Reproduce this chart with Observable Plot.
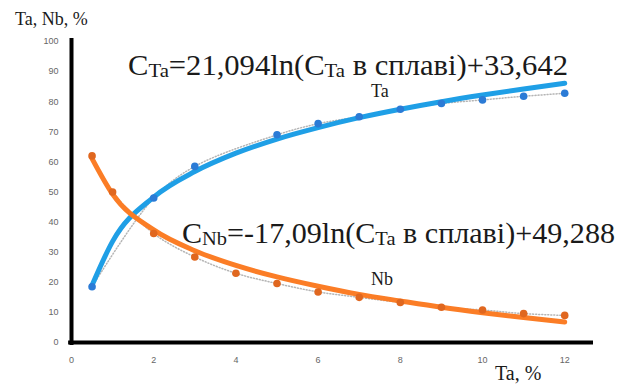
<!DOCTYPE html>
<html><head><meta charset="utf-8">
<script src="https://cdn.jsdelivr.net/npm/d3@7"></script>
<script src="https://cdn.jsdelivr.net/npm/@observablehq/plot@0.6"></script>
<style>body{margin:0;background:#fff}#c{position:relative;width:630px;height:385px}
.lab{position:absolute;white-space:nowrap;font-family:'Liberation Serif','Times New Roman',serif;line-height:1;color:#1a1a1a;transform-origin:0 0;pointer-events:none}
.lab .sub{font-size:68%;position:relative;top:2px}</style>
</head><body><div id="c"></div>
<script>
// Measured data points
const taX = [0.5, 2, 3, 5, 6, 7, 8, 9, 10, 11, 12];
const taY = [18.5, 48, 58.5, 69, 72.7, 75, 77.5, 79.4, 80.6, 81.8, 82.8];
const nbX = [0.5, 1, 2, 3, 4, 5, 6, 7, 8, 9, 10, 11, 12];
const nbY = [62, 50, 36.2, 28.4, 23, 19.6, 16.8, 15, 13.3, 11.7, 10.8, 9.6, 9];
// Trendlines
const trendX = [0.5, 1, 2, 3, 4, 5, 6, 7, 8, 9, 10, 11, 12];
const taTrendY = [19, 33.6, 48.3, 56.8, 62.9, 67.6, 71.4, 74.7, 77.5, 80, 82.2, 84.2, 86.1];
const nbTrendY = [61.1, 49.3, 37.4, 30.5, 25.6, 21.8, 18.7, 16, 13.8, 11.7, 9.9, 8.3, 6.8];
// Ticks & labels
const xTicks = [0, 2, 4, 6, 8, 10, 12];
const yTicks = [0, 10, 20, 30, 40, 50, 60, 70, 80, 90, 100];
const yTitle = "Ta, Nb, %";
const xTitle = "Ta, %";
const seriesNames = ["Ta", "Nb"];
const eqTa = [["C",""],["Ta","sub"],["=21,094ln(C",""],["Ta","sub"],[" в сплаві)+33,642",""]];
const eqNb = [["C",""],["Nb","sub"],["=-17,09ln(C",""],["Ta","sub"],[" в сплаві)+49,288",""]];

const ta = taX.map((x, i) => ({x, y: taY[i]}));
const nb = nbX.map((x, i) => ({x, y: nbY[i]}));
const taT = trendX.map((x, i) => ({x, y: taTrendY[i]}));
const nbT = trendX.map((x, i) => ({x, y: nbTrendY[i]}));

const BLUE = "#1f9fe6", BLUE_PT = "#2b7bd6", ORANGE = "#fb7d26", ORANGE_PT = "#e0671f";

const plot = Plot.plot({
  width: 630, height: 385,
  marginLeft: 71, marginRight: 37, marginTop: 41, marginBottom: 43,
  style: {fontFamily: "Liberation Sans, Arial, sans-serif", fontSize: "9px", color: "#666", background: "#fff"},
  x: {domain: [0, 12.7]},
  y: {domain: [0, 100]},
  marks: [
    Plot.axisX({ticks: xTicks, tickSize: 0, tickPadding: 14, label: null}),
    Plot.axisY({ticks: yTicks, tickSize: 0, tickPadding: 13, label: null}),
    Plot.line(ta, {x: "x", y: "y", stroke: "#b5b5b5", strokeWidth: 1.5, strokeDasharray: "1,2", curve: "catmull-rom"}),
    Plot.line(nb, {x: "x", y: "y", stroke: "#b5b5b5", strokeWidth: 1.5, strokeDasharray: "1,2", curve: "catmull-rom"}),
    Plot.line(taT, {x: "x", y: "y", stroke: BLUE, strokeWidth: 5, curve: "monotone-x"}),
    Plot.line(nbT, {x: "x", y: "y", stroke: ORANGE, strokeWidth: 5, curve: "monotone-x"}),
    Plot.dot(ta, {x: "x", y: "y", r: 3.8, fill: BLUE_PT}),
    Plot.dot(nb, {x: "x", y: "y", r: 3.8, fill: ORANGE_PT}),
    Plot.ruleX([0], {y1: -1, y2: 101, stroke: "#000", strokeWidth: 4}),
    Plot.ruleY([0], {x1: -0.07, x2: 12.7, stroke: "#000", strokeWidth: 4})
  ]
});
const host = document.getElementById("c");
host.appendChild(plot);
const sx = plot.scale("x"), sy = plot.scale("y");

// HTML labels; (x, baseline y) in pixels
function lab(parts, x, yBase, size, targetW) {
  const d = document.createElement("div");
  d.className = "lab";
  d.style.fontSize = size + "px";
  parts.forEach(([s, k]) => {
    const sp = document.createElement("span");
    if (k === "sub") sp.className = "sub";
    sp.textContent = s;
    d.appendChild(sp);
  });
  d.style.left = x + "px";
  d.style.top = (yBase - 0.84 * size) + "px";
  host.appendChild(d);
  if (targetW) {
    const w = d.getBoundingClientRect().width;
    d.style.transform = `scaleX(${targetW / w})`;
  }
}
lab(eqTa, sx.apply(1.39), sy.apply(88.7), 29, 440);
lab(eqNb, sx.apply(2.7), sy.apply(32.9), 29, 433);
lab([[seriesNames[0], ""]], sx.apply(7.3), sy.apply(81.4), 18);
lab([[seriesNames[1], ""]], sx.apply(7.3), sy.apply(19.0), 18);
lab([[yTitle, ""]], 15, 25, 18);
lab([[xTitle, ""]], 495, 380, 20);
</script></body></html>
